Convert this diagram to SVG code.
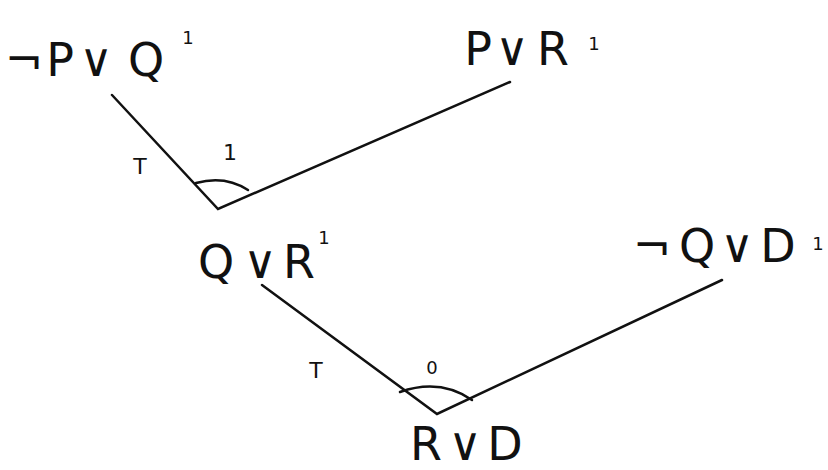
<svg xmlns="http://www.w3.org/2000/svg" width="828" height="470" viewBox="0 0 828 470">
<style>
.t{font-family:"DejaVu Sans",sans-serif;font-size:46px;fill:#111;text-anchor:middle}
.s{font-family:"DejaVu Sans",sans-serif;font-size:18px;fill:#111;text-anchor:middle}
.l{font-family:"DejaVu Sans",sans-serif;font-size:22px;fill:#111;text-anchor:middle}
.e{stroke:#111;stroke-width:2.5;fill:none;stroke-linecap:round}
</style>
<rect width="828" height="470" fill="#fff"/>
<g id="n1">
<text class="t" y="76"><tspan x="24">¬</tspan><tspan x="60">P</tspan><tspan x="96">∨</tspan><tspan x="146">Q</tspan></text>
<text class="s" x="188" y="44">1</text>
</g>
<g id="n2">
<text class="t" y="65"><tspan x="478">P</tspan><tspan x="512">∨</tspan><tspan x="553">R</tspan></text>
<text class="s" x="594" y="50">1</text>
</g>
<g id="n3">
<text class="t" y="278"><tspan x="216">Q</tspan><tspan x="260">∨</tspan><tspan x="299">R</tspan></text>
<text class="s" x="324" y="244">1</text>
</g>
<g id="n4">
<text class="t" y="262"><tspan x="652">¬</tspan><tspan x="697">Q</tspan><tspan x="737">∨</tspan><tspan x="778">D</tspan></text>
<text class="s" x="818" y="250">1</text>
</g>
<g id="n5">
<text class="t" y="460"><tspan x="426">R</tspan><tspan x="465">∨</tspan><tspan x="505">D</tspan></text>
</g>
<g id="connectors">
<path class="e" d="M112,95 L218,209 L510,82"/>
<path class="e" d="M196,183 Q225,175 248,190"/>
<path class="e" d="M262,285 L437,414 L722,280"/>
<path class="e" d="M400,392 Q440,378 472,400"/>
</g>
<g id="labels">
<text class="l" x="140" y="174">T</text>
<text class="l" x="230" y="160">1</text>
<text class="l" x="316" y="378">T</text>
<text class="s" x="432" y="374">0</text>
</g>
</svg>
